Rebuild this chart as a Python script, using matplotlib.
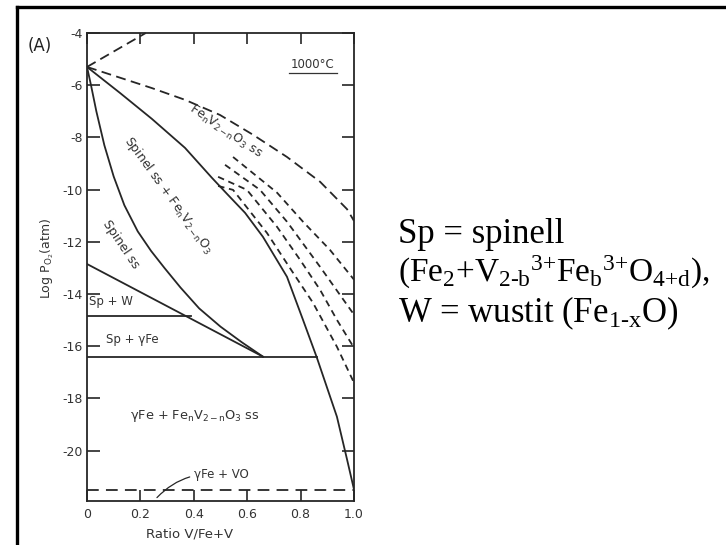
import matplotlib
matplotlib.use("Agg")
import matplotlib.pyplot as plt
from matplotlib.lines import Line2D

plt.rcParams["font.family"] = ["DejaVu Sans"]
plt.rcParams["axes.unicode_minus"] = False
plt.rcParams["mathtext.fontset"] = "custom"
plt.rcParams["mathtext.rm"] = "Liberation Serif"
plt.rcParams["mathtext.it"] = "Liberation Serif:italic"
plt.rcParams["mathtext.sf"] = "DejaVu Sans"

# axes
x_ticks = [0, 0.2, 0.4, 0.6, 0.8, 1.0]
x_tick_labels = ["0", "0.2", "0.4", "0.6", "0.8", "1.0"]
y_ticks = [-4, -6, -8, -10, -12, -14, -16, -18, -20]

# solid phase boundaries
main_x = [0, 0.124, 0.243, 0.367, 0.468, 0.524, 0.592, 0.659, 0.749, 0.809, 0.861, 0.936, 0.974, 1.0]
main_y = [-5.3, -6.30, -7.29, -8.40, -9.55, -10.16, -10.89, -11.81, -13.34, -14.99, -16.44, -18.70, -20.34, -21.49]

spinel_x = [0, 0.015, 0.035, 0.065, 0.100, 0.140, 0.190, 0.240, 0.290, 0.350, 0.420, 0.500, 0.580, 0.659]
spinel_y = [-5.3, -6.0, -7.0, -8.3, -9.5, -10.6, -11.6, -12.35, -13.0, -13.75, -14.55, -15.25, -15.85, -16.40]

sp_edge_x = [0, 0.659]
sp_edge_y = [-12.85, -16.40]
sp_w_x = [0, 0.39]
sp_w_y = [-14.85, -14.85]
sp_fe_x = [0, 0.861]
sp_fe_y = [-16.4, -16.4]

# dashed boundaries
top_x = [0, 0.22]
top_y = [-5.3, -4.0]
upper_x = [0, 0.243, 0.367, 0.498, 0.622, 0.749, 0.873, 0.974, 1.0]
upper_y = [-5.3, -6.11, -6.56, -7.14, -7.90, -8.75, -9.70, -10.75, -11.2]
iso1_x = [0.547, 0.712, 0.809, 0.910, 1.0]
iso1_y = [-8.75, -10.12, -11.23, -12.31, -13.45]
iso2_x = [0.517, 0.648, 0.749, 0.873, 1.0]
iso2_y = [-9.05, -10.01, -11.23, -12.96, -14.79]
iso3_x = [0.491, 0.599, 0.712, 0.798, 0.873, 0.936, 1.0]
iso3_y = [-9.51, -10.01, -11.43, -12.69, -13.84, -14.99, -16.06]
iso4_x = [0.491, 0.547, 0.674, 0.772, 0.846, 0.936, 1.0]
iso4_y = [-9.86, -10.01, -11.66, -13.19, -14.33, -16.02, -17.40]
vo_x = [0, 1.0]
vo_y = [-21.5, -21.5]

ink = "#262626"
txt = "#333333"

fig = plt.figure(figsize=(7.26, 5.45), dpi=100)
ax = fig.add_axes([87 / 726, 44 / 545, 267 / 726, 468 / 545])

lw = 1.3
ax.plot(main_x, main_y, color=ink, lw=lw)
ax.plot(spinel_x, spinel_y, color=ink, lw=lw)
ax.plot(sp_edge_x, sp_edge_y, color=ink, lw=lw)
ax.plot(sp_w_x, sp_w_y, color=ink, lw=lw)
ax.plot(sp_fe_x, sp_fe_y, color=ink, lw=lw)

ax.plot(top_x, top_y, color=ink, lw=lw, dashes=(5.5, 3), clip_on=False)
ax.plot(upper_x, upper_y, color=ink, lw=lw, dashes=(5.5, 3))
for xs, ys in [(iso1_x, iso1_y), (iso2_x, iso2_y), (iso3_x, iso3_y), (iso4_x, iso4_y)]:
    ax.plot(xs, ys, color=ink, lw=lw, dashes=(3.6, 2.6))
ax.plot(vo_x, vo_y, color=ink, lw=lw, dashes=(6.5, 4))

ax.set_xlim(0, 1.0)
ax.set_ylim(-21.93, -4.0)
ax.set_xticks(x_ticks)
ax.set_xticklabels(x_tick_labels)
ax.set_yticks(y_ticks)
ax.set_yticklabels([str(v) for v in y_ticks])
ax.tick_params(axis="both", direction="in", color=ink, width=1.2, labelcolor=txt, labelsize=9)
ax.tick_params(axis="y", length=9, pad=3, right=True)
ax.tick_params(axis="x", length=8, pad=5, top=True)
for s in ax.spines.values():
    s.set_color(ink)
    s.set_linewidth(1.3)

# region labels
fs = 8.5
ax.text(0.517, -7.79, r"Fe$\mathsf{_nV_{2-n}O_3}$ ss", rotation=-34, ha="center", va="center",
        rotation_mode="anchor", fontsize=9, color=txt)
ax.text(0.307, -10.2, r"Spinel ss + Fe$\mathsf{_nV_{2-n}O_3}$", rotation=-54, ha="center", va="center",
        rotation_mode="anchor", fontsize=9, color=txt)
ax.text(0.127, -12.08, "Spinel ss", rotation=-56, ha="center", va="center",
        rotation_mode="anchor", fontsize=9, color=txt)
ax.text(0.007, -14.3, "Sp + W", ha="left", va="center", fontsize=fs, color=txt)
ax.text(0.169, -15.75, "Sp + γFe", ha="center", va="center", fontsize=fs, color=txt)
ax.text(0.404, -18.66, r"γFe + Fe$\mathsf{_nV_{2-n}O_3}$ ss", ha="center", va="center", fontsize=9.3, color=txt)
ax.annotate("γFe + VO", xy=(0.262, -21.8), xytext=(0.40, -20.92), ha="left", va="center",
            fontsize=fs, color=txt,
            arrowprops=dict(arrowstyle="-", color=ink, lw=0.9, shrinkA=1, shrinkB=0,
                            connectionstyle="arc3,rad=0.25"))
ax.text(0.846, -5.22, "1000°C", ha="center", va="center", fontsize=8.5, color=txt)
ax.plot([0.755, 0.937], [-5.55, -5.55], color=txt, lw=0.9)

fig.text(40 / 726, 1 - 46 / 545, "(A)", ha="center", va="center", fontsize=12, color="#222222")
fig.text(47 / 726, 1 - 258 / 545, r"Log P$\mathsf{_{O_2}}$(atm)", rotation=90, ha="center", va="center",
         fontsize=9, color=txt)
fig.text(190 / 726, 1 - 534 / 545, "Ratio V/Fe+V", ha="center", va="center", fontsize=9.5, color=txt)

# legend text on the right
serif = dict(fontsize=25, color="black", ha="left", va="baseline")
fig.text(398 / 726, 1 - 243 / 545, r"Sp = spinell", family="Liberation Serif", **serif)
fig.text(398 / 726, 1 - 282 / 545,
         r"$\mathrm{(Fe_2{+}V_{2\text{-}b}{}^{3{+}}Fe_b{}^{3{+}}O_{4{+}d}),}$",
         fontsize=24, color="black", ha="left", va="baseline")
fig.text(398 / 726, 1 - 322 / 545, r"W = wustit (Fe$\mathrm{_{1\text{-}x}}$O)", family="Liberation Serif", **serif)

# outer frame
fig.add_artist(Line2D([16.5 / 726, 16.5 / 726], [0, 1 - 6.5 / 545], color="black", lw=2.4))
fig.add_artist(Line2D([16.5 / 726, 1], [1 - 6.5 / 545, 1 - 6.5 / 545], color="black", lw=2.4))

fig.savefig("out.png", dpi=100)
